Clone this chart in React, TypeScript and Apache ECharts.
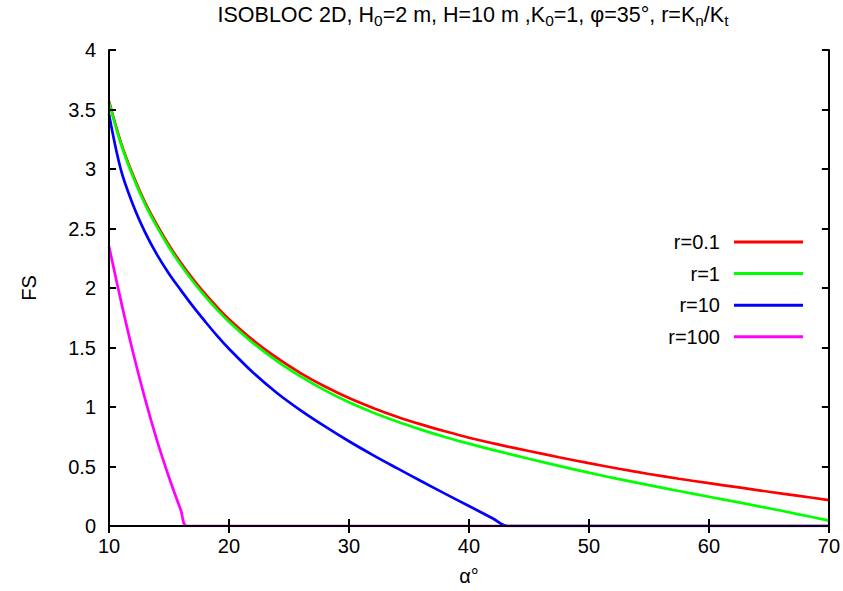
import React, { useEffect, useRef } from "react";
import * as echarts from "echarts";

const alphaRG = [10, 11, 12, 13, 14, 15, 16, 17, 18, 19, 20, 22, 24, 26, 28, 30, 32, 34, 36, 38, 40, 42.5, 45, 47.5, 50, 52.5, 55, 57.5, 60, 62.5, 65, 67.5, 70];
const fsR01 = [3.57, 3.22, 2.95, 2.72, 2.53, 2.36, 2.21, 2.075, 1.952, 1.84, 1.738, 1.562, 1.412, 1.283, 1.172, 1.075, 0.992, 0.918, 0.854, 0.796, 0.742, 0.684, 0.63, 0.578, 0.528, 0.481, 0.437, 0.397, 0.36, 0.324, 0.288, 0.253, 0.218];
const fsR1 = [3.56, 3.21, 2.935, 2.705, 2.513, 2.342, 2.191, 2.055, 1.931, 1.818, 1.716, 1.538, 1.386, 1.255, 1.14, 1.04, 0.954, 0.878, 0.81, 0.748, 0.692, 0.627, 0.565, 0.505, 0.448, 0.394, 0.343, 0.294, 0.246, 0.198, 0.149, 0.098, 0.045];
const alphaR10 = [10, 11, 12, 13, 14, 15, 16, 17, 18, 19, 20, 22, 24, 26, 28, 30, 32, 34, 36, 38, 40, 42, 43.2, 50, 60, 70];
const fsR10 = [3.46, 2.99, 2.7, 2.47, 2.28, 2.12, 1.98, 1.845, 1.72, 1.6, 1.49, 1.29, 1.118, 0.97, 0.837, 0.712, 0.596, 0.486, 0.378, 0.272, 0.168, 0.063, 0, 0, 0, 0];
const alphaR100 = [10, 11, 12, 13, 14, 15, 16, 16.5, 20, 30, 40, 50, 60, 70];
const fsR100 = [2.35, 1.89, 1.46, 1.07, 0.72, 0.41, 0.13, 0, 0, 0, 0, 0, 0, 0];

const seriesNames = ["r=0.1", "r=1", "r=10", "r=100"];
const seriesColors = ["#ff0000", "#00ff00", "#0000ff", "#ff00ff"];

const FONT = "'Liberation Sans', Arial, Helvetica, sans-serif";

function pairs(xs: number[], ys: number[]) {
  return xs.map((x, i) => [x, ys[i]]);
}

export default function App() {
  const ref = useRef<HTMLDivElement>(null);
  useEffect(() => {
    if (!ref.current) return;
    const chart = echarts.init(ref.current, undefined, { renderer: "svg" });
    const axisLine = { show: true, lineStyle: { color: "#000", width: 2 } };
    const tick = { show: true, inside: true, length: 7, lineStyle: { color: "#000", width: 2 } };
    const dataSets = [pairs(alphaRG, fsR01), pairs(alphaRG, fsR1), pairs(alphaR10, fsR10), pairs(alphaR100, fsR100)];
    chart.setOption({
      animation: false,
      backgroundColor: "#fff",
      textStyle: { fontFamily: FONT },
      title: {
        text: "ISOBLOC 2D, H{s|0}=2 m, H=10 m ,K{s|0}=1, φ=35°, r=K{s|n}/K{s|t}",
        left: 468,
        top: -3,
        textAlign: "center",
        textStyle: {
          fontSize: 21.5,
          fontWeight: "normal",
          color: "#000",
          fontFamily: FONT,
          rich: { s: { fontSize: 15.5, padding: [10, 0, 0, 0], fontFamily: FONT, color: "#000" } },
        },
      },
      grid: { left: 109, right: 14, top: 50, bottom: 64 },
      legend: {
        orient: "vertical",
        left: 645,
        top: 224.5,
        align: "right",
        icon: "rect",
        itemWidth: 69,
        itemHeight: 3,
        itemGap: 6.6,
        data: seriesNames,
        formatter: (name: string) => `{t|${name}}{g|}`,
        textStyle: {
          fontSize: 20,
          color: "#000",
          fontFamily: FONT,
          lineHeight: 25,
          rich: {
            t: { fontSize: 20, color: "#000", fontFamily: FONT, width: 70, align: "right", lineHeight: 25 },
            g: { width: 9 },
          },
        },
      },
      xAxis: [
        {
          type: "value",
          min: 10,
          max: 70,
          interval: 10,
          z: 5,
          name: "α°",
          nameLocation: "middle",
          nameGap: 40,
          nameTextStyle: { fontSize: 20, color: "#000", fontFamily: FONT },
          axisLine,
          axisTick: tick,
          axisLabel: { fontSize: 20, color: "#000", margin: 10, fontFamily: FONT },
          splitLine: { show: false },
        },
        {
          type: "value",
          position: "top",
          min: 10,
          max: 70,
          interval: 10,
          z: 5,
          axisLine,
          axisTick: tick,
          axisLabel: { show: false },
          splitLine: { show: false },
        },
      ],
      yAxis: [
        {
          type: "value",
          min: 0,
          max: 4,
          interval: 0.5,
          z: 5,
          name: "FS",
          nameLocation: "middle",
          nameGap: 70,
          nameTextStyle: { fontSize: 20, color: "#000", fontFamily: FONT },
          axisLine,
          axisTick: tick,
          axisLabel: { fontSize: 20, color: "#000", margin: 13, fontFamily: FONT },
          splitLine: { show: false },
        },
        {
          type: "value",
          position: "right",
          min: 0,
          max: 4,
          interval: 0.5,
          z: 5,
          axisLine,
          axisTick: tick,
          axisLabel: { show: false },
          splitLine: { show: false },
        },
      ],
      series: dataSets.map((d, i) => ({
        name: seriesNames[i],
        type: "line",
        data: d,
        showSymbol: false,
        symbol: "none",
        smooth: 0.35,
        color: seriesColors[i],
        lineStyle: { color: seriesColors[i], width: 2.7 },
        itemStyle: { color: seriesColors[i] },
        z: 2 + i * 0.1,
      })),
    });
    return () => chart.dispose();
  }, []);
  return <div ref={ref} style={{ position: "fixed", left: 0, top: 0, width: 843, height: 591 }} />;
}
